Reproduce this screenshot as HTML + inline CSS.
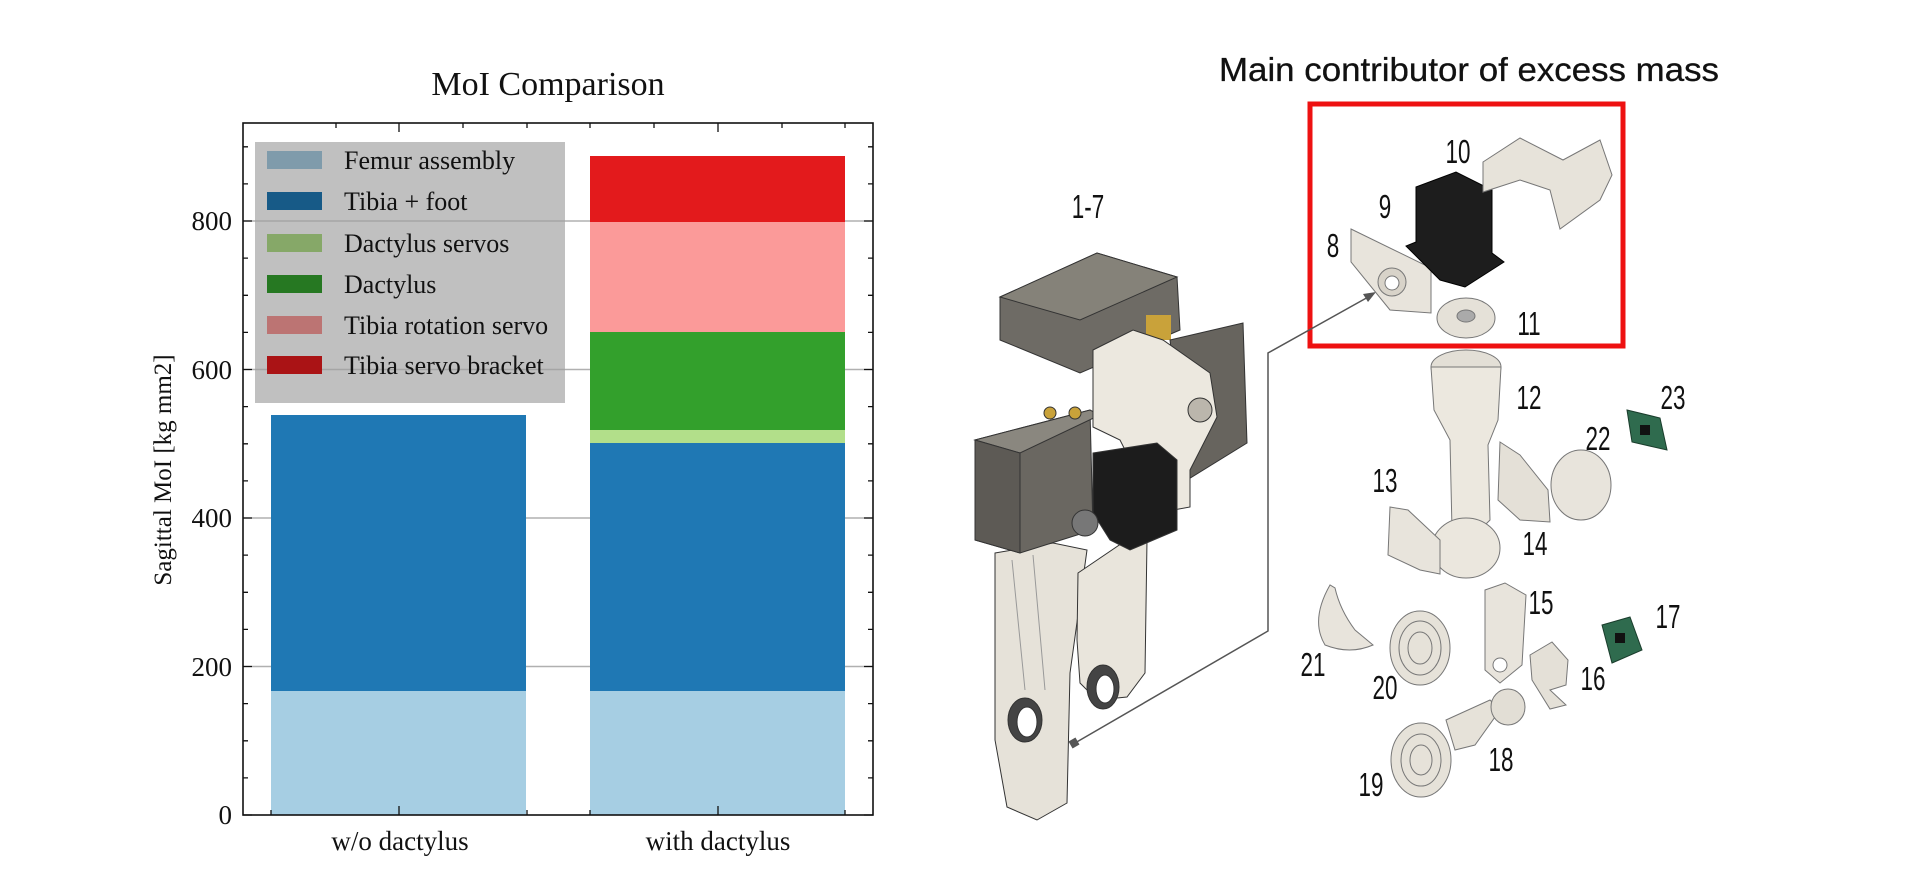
<!DOCTYPE html>
<html><head><meta charset="utf-8"><style>
html,body{margin:0;padding:0;background:#fff;}
svg{display:block;}
.serif{font-family:"Liberation Serif",serif;}
</style></head><body>
<svg width="1912" height="895" viewBox="0 0 1912 895" xmlns="http://www.w3.org/2000/svg">
<rect width="1912" height="895" fill="#fff"/>
<!-- ===== CHART ===== -->
<text x="548" y="95" class="serif" font-size="34" text-anchor="middle" fill="#111">MoI Comparison</text>
<g stroke="#b0b0b0" stroke-width="1.5">
<line x1="243" y1="666.5" x2="873" y2="666.5"/>
<line x1="243" y1="518" x2="873" y2="518"/>
<line x1="243" y1="369.5" x2="873" y2="369.5"/>
<line x1="243" y1="221" x2="873" y2="221"/>
</g>
<rect x="271" y="691" width="255" height="124" fill="#a6cee3"/>
<rect x="271" y="415" width="255" height="276" fill="#1f78b4"/>
<rect x="590" y="691" width="255" height="124" fill="#a6cee3"/>
<rect x="590" y="443" width="255" height="248" fill="#1f78b4"/>
<rect x="590" y="430" width="255" height="13" fill="#b2df8a"/>
<rect x="590" y="332" width="255" height="98" fill="#33a02c"/>
<rect x="590" y="222" width="255" height="110" fill="#fb9a99"/>
<rect x="590" y="156" width="255" height="66" fill="#e31a1c"/>
<rect x="255" y="142" width="310" height="261" fill="#a0a0a0" fill-opacity="0.66"/>
<rect x="267" y="151" width="55" height="18" fill="#7f9bab"/>
<rect x="267" y="192" width="55" height="18" fill="#175a87"/>
<rect x="267" y="234" width="55" height="18" fill="#86a868"/>
<rect x="267" y="275" width="55" height="18" fill="#267822"/>
<rect x="267" y="316" width="55" height="18" fill="#bc7473"/>
<rect x="267" y="356" width="55" height="18" fill="#aa1315"/>
<g class="serif" font-size="26" fill="#111">
<text x="344" y="169">Femur assembly</text>
<text x="344" y="210">Tibia + foot</text>
<text x="344" y="252">Dactylus servos</text>
<text x="344" y="293">Dactylus</text>
<text x="344" y="334">Tibia rotation servo</text>
<text x="344" y="374">Tibia servo bracket</text>
</g>
<rect x="243" y="123" width="630" height="692" fill="none" stroke="#111" stroke-width="1.6"/>
<g stroke="#111" stroke-width="1.3">
<path d="M243 815h9M243 666.5h9M243 518h9M243 369.5h9M243 221h9M873 815h-9M873 666.5h-9M873 518h-9M873 369.5h-9M873 221h-9"/>
<path d="M243 777.9h5M243 740.8h5M243 703.6h5M243 629.4h5M243 592.3h5M243 555.1h5M243 480.9h5M243 443.8h5M243 406.6h5M243 332.4h5M243 295.3h5M243 258.1h5M243 183.9h5M243 146.8h5"/>
<path d="M873 777.9h-5M873 740.8h-5M873 703.6h-5M873 629.4h-5M873 592.3h-5M873 555.1h-5M873 480.9h-5M873 443.8h-5M873 406.6h-5M873 332.4h-5M873 295.3h-5M873 258.1h-5M873 183.9h-5M873 146.8h-5"/>
<path d="M399 123v9M718 123v9M336 123v5M463 123v5M527 123v5M590 123v5M654 123v5M782 123v5M845 123v5"/>
<path d="M399 815v-9M718 815v-9M271 815v-5M527 815v-5M590 815v-5M845 815v-5"/>
</g>
<g class="serif" font-size="27" fill="#111" text-anchor="end">
<text x="232" y="824">0</text>
<text x="232" y="676">200</text>
<text x="232" y="527">400</text>
<text x="232" y="379">600</text>
<text x="232" y="230">800</text>
</g>
<g class="serif" font-size="27" fill="#111" text-anchor="middle">
<text x="400" y="850">w/o dactylus</text>
<text x="718" y="850">with dactylus</text>
<text transform="translate(171,470) rotate(-90)" font-size="25">Sagittal MoI [kg mm2]</text>
</g>

<!-- ===== RIGHT ===== -->
<text x="1469" y="81" font-family="'Liberation Sans','DejaVu Sans',sans-serif" font-size="33" text-anchor="middle" fill="#111" stroke="#111" stroke-width="0.3" textLength="500" lengthAdjust="spacingAndGlyphs">Main contributor of excess mass</text>
<rect x="1310" y="104" width="313" height="242" fill="none" stroke="#ee1111" stroke-width="5"/>

<g stroke="#333" stroke-width="1">
<polygon points="995,553 1053,543 1087,550 1070,673 1067,803 1037,820 1007,807 995,740" fill="#e6e2d9"/>
<polygon points="1078,573 1137,533 1147,540 1145,673 1127,697 1097,700 1080,683 1077,640" fill="#e9e5dc"/>
<path d="M1012,560 L1025,690 M1033,555 L1045,690" fill="none" stroke="#999"/>
<ellipse cx="1025" cy="720" rx="17" ry="22" fill="#444"/>
<ellipse cx="1027" cy="722" rx="10" ry="15" fill="#fff"/>
<ellipse cx="1103" cy="687" rx="16" ry="22" fill="#444"/>
<ellipse cx="1105" cy="689" rx="9" ry="14" fill="#fff"/>
<polygon points="1000,297 1097,253 1177,277 1180,330 1080,373 1000,340" fill="#6e6b65"/>
<polygon points="1000,297 1097,253 1177,277 1080,320" fill="#858279"/>
<rect x="1146" y="315" width="25" height="25" fill="#c9a23a" stroke="none"/>
<polygon points="1170,340 1243,323 1247,443 1187,480" fill="#67645e"/>
<polygon points="975,440 1090,410 1093,530 1020,553 975,540" fill="#6a6761"/>
<polygon points="975,440 1090,410 1100,415 1020,453" fill="#8a877f"/>
<polygon points="975,440 1020,453 1020,553 975,540" fill="#5d5a55"/>
<polygon points="1093,350 1133,330 1163,340 1210,373 1217,417 1190,470 1190,507 1157,513 1120,440 1093,427" fill="#ece8df"/>
<circle cx="1200" cy="410" r="12" fill="#bbb6ac"/>
<polygon points="1093,453 1157,443 1177,460 1177,530 1130,550 1110,540 1093,513" fill="#1c1c1c"/>
<circle cx="1085" cy="523" r="13" fill="#777"/>
<circle cx="1050" cy="413" r="6" fill="#c9a23a"/>
<circle cx="1075" cy="413" r="6" fill="#c9a23a"/>
</g>
<polyline points="1075,743 1268,631 1268,353 1370,296" fill="none" stroke="#555" stroke-width="1.5"/>
<polygon points="1376,292 1363,294 1368,302" fill="#555"/>
<rect x="1070" y="739" width="8" height="8" fill="#555" transform="rotate(-30 1074 743)"/>

<g stroke="#777" stroke-width="1">
<polygon points="1351,229 1431,268 1431,313 1390,310 1351,262" fill="#e8e4dc"/>
<circle cx="1392" cy="282" r="14" fill="#d8d3c9"/><circle cx="1392" cy="283" r="7" fill="#fff"/>
<polygon points="1416,187 1456,172 1492,190 1492,253 1504,262 1465,287 1440,280 1406,246 1416,242" fill="#1d1d1d" stroke="#000"/>
<polygon points="1483,162 1520,138 1563,160 1600,140 1612,175 1600,200 1560,229 1550,190 1520,180 1483,192" fill="#e7e3da"/>
<ellipse cx="1466" cy="318" rx="29" ry="20" fill="#e5e1d8"/>
<ellipse cx="1466" cy="316" rx="9" ry="6" fill="#aaa"/>
<ellipse cx="1466" cy="367" rx="35" ry="17" fill="#e3dfd6"/>
<polygon points="1431,367 1501,367 1498,420 1488,445 1490,520 1470,540 1452,530 1450,440 1434,410" fill="#ece8df"/>
<ellipse cx="1466" cy="548" rx="34" ry="30" fill="#ebe7de"/>
<polygon points="1390,507 1408,510 1440,540 1440,574 1420,570 1388,555" fill="#e8e4dc"/>
<polygon points="1500,442 1520,455 1548,490 1550,522 1520,520 1498,500" fill="#e4e0d7"/>
<ellipse cx="1581" cy="485" rx="30" ry="35" fill="#e8e4dc"/>
<polygon points="1627,410 1660,418 1667,450 1632,442" fill="#2f6b4e" stroke="#1a3d2c"/>
<rect x="1640" y="425" width="10" height="10" fill="#111" stroke="none"/>
<path d="M1330,585 Q1310,620 1325,645 Q1350,655 1373,645 L1355,630 Q1340,610 1335,588 Z" fill="#e8e4dc"/>
<ellipse cx="1420" cy="648" rx="30" ry="37" fill="#e6e2d9"/>
<ellipse cx="1420" cy="648" rx="21" ry="27" fill="none"/><ellipse cx="1420" cy="648" rx="12" ry="16" fill="none"/>
<polygon points="1485,590 1505,583 1526,595 1522,665 1500,683 1485,670" fill="#e8e4dc"/>
<circle cx="1500" cy="665" r="7" fill="#fff"/>
<polygon points="1530,655 1552,642 1568,660 1566,685 1550,690 1566,705 1550,709 1532,680" fill="#e4e0d7"/>
<polygon points="1602,625 1630,617 1642,650 1612,663" fill="#2f6b4e" stroke="#1a3d2c"/>
<rect x="1615" y="633" width="10" height="10" fill="#111" stroke="none"/>
<polygon points="1446,720 1490,700 1500,710 1475,745 1455,750" fill="#e6e2d9"/>
<ellipse cx="1508" cy="707" rx="17" ry="18" fill="#e2ded5"/>
<ellipse cx="1421" cy="760" rx="30" ry="37" fill="#e6e2d9"/>
<ellipse cx="1421" cy="760" rx="20" ry="26" fill="none"/><ellipse cx="1421" cy="760" rx="11" ry="15" fill="none"/>
</g>

<g font-family="'Liberation Sans','DejaVu Sans',sans-serif" font-size="33" fill="#111" text-anchor="middle">
<text transform="translate(1088,218) scale(0.68,1)">1-7</text>
<text transform="translate(1458,163) scale(0.68,1)">10</text>
<text transform="translate(1385,218) scale(0.68,1)">9</text>
<text transform="translate(1333,257) scale(0.68,1)">8</text>
<text transform="translate(1529,335) scale(0.68,1)">11</text>
<text transform="translate(1529,409) scale(0.68,1)">12</text>
<text transform="translate(1673,409) scale(0.68,1)">23</text>
<text transform="translate(1598,450) scale(0.68,1)">22</text>
<text transform="translate(1385,492) scale(0.68,1)">13</text>
<text transform="translate(1535,555) scale(0.68,1)">14</text>
<text transform="translate(1541,614) scale(0.68,1)">15</text>
<text transform="translate(1668,628) scale(0.68,1)">17</text>
<text transform="translate(1313,676) scale(0.68,1)">21</text>
<text transform="translate(1385,699) scale(0.68,1)">20</text>
<text transform="translate(1593,690) scale(0.68,1)">16</text>
<text transform="translate(1501,771) scale(0.68,1)">18</text>
<text transform="translate(1371,796) scale(0.68,1)">19</text>
</g>
</svg>
</body></html>
